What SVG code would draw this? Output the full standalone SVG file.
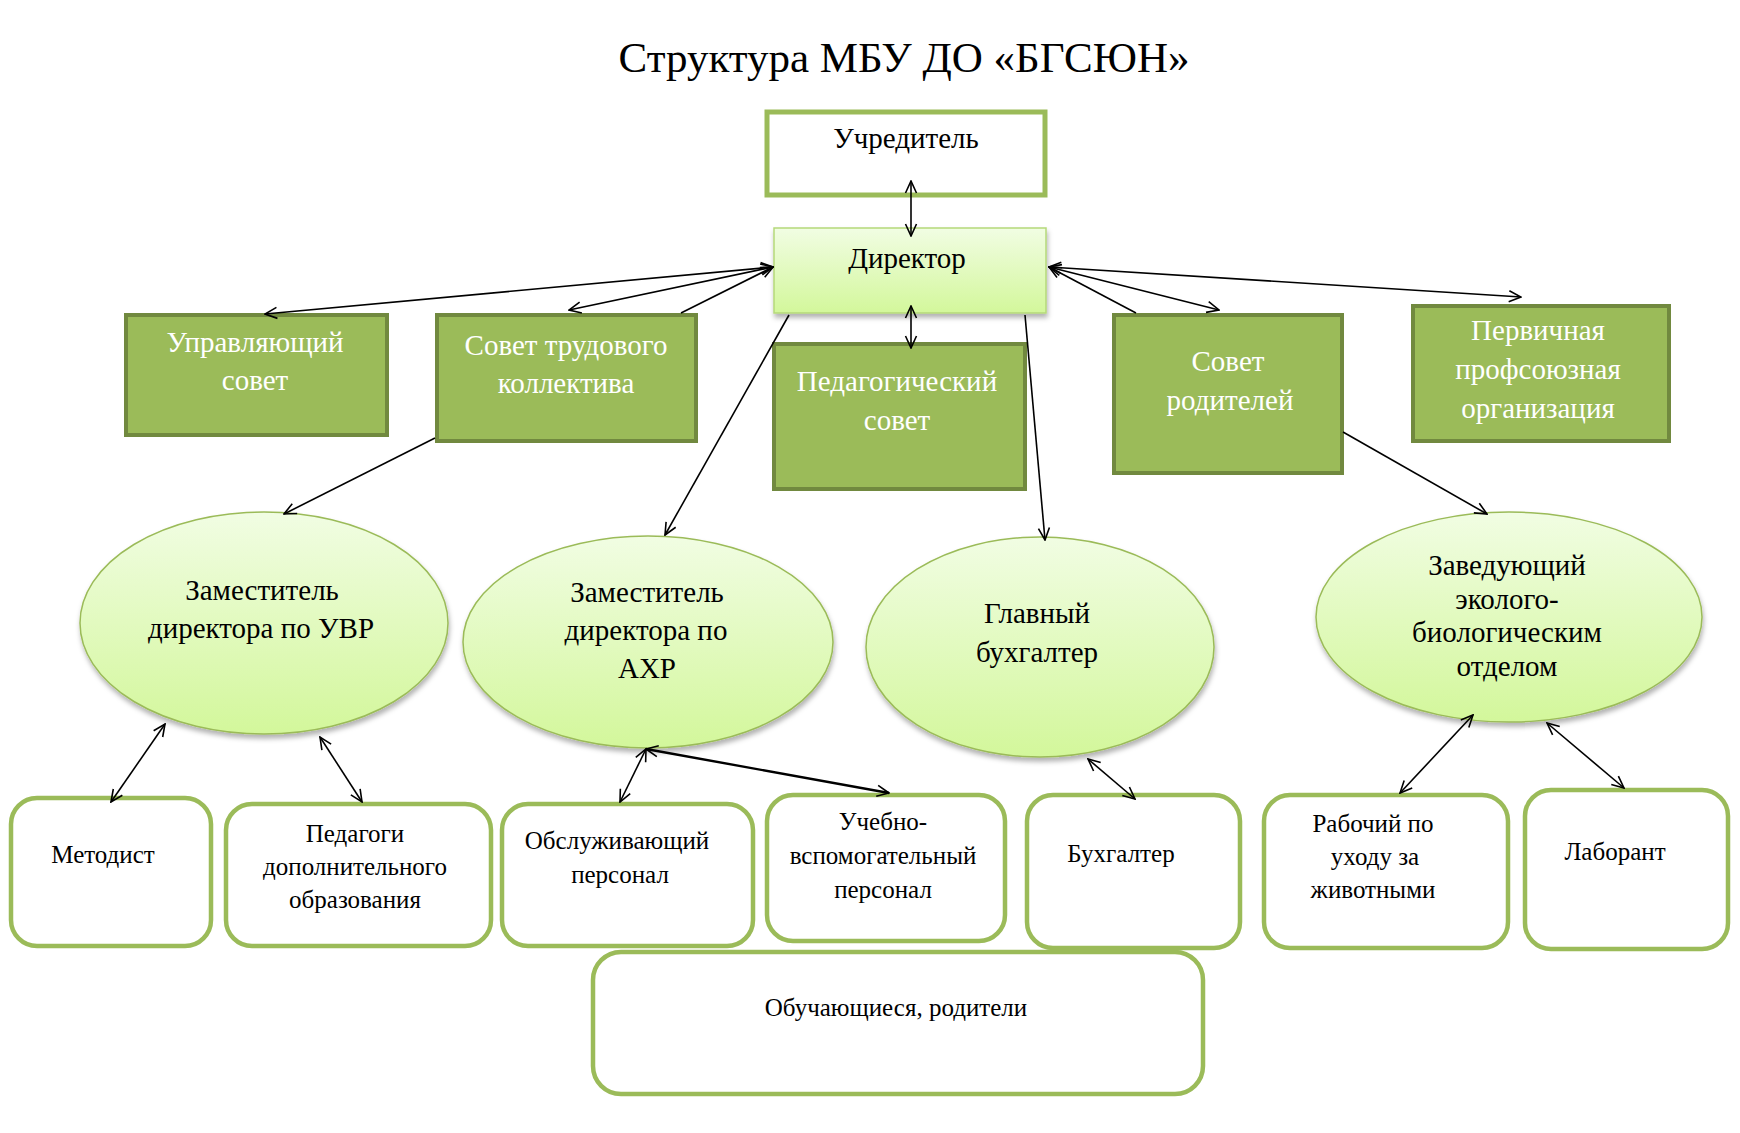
<svg xmlns="http://www.w3.org/2000/svg" width="1740" height="1133" viewBox="0 0 1740 1133">
<defs>
<style>
text{font-family:"Liberation Serif","Times New Roman",serif;text-anchor:middle;fill:#000}
.t{font-size:43px}
.m{font-size:29px}
.w{font-size:29px;fill:#fff}
.s{font-size:25px}
.gbox{fill:#9BBB59;stroke:#71893F;stroke-width:4}
.rbox{fill:#fff;stroke:#9BBB59;stroke-width:4.5}
.ell{fill:url(#eg);stroke:#9BBB59;stroke-width:1.5}
.c{stroke:#000;stroke-width:1.6;fill:none}
.ab{marker-end:url(#ah)}
.dd{marker-start:url(#ah);marker-end:url(#ah)}
</style>
<linearGradient id="eg" x1="0" y1="0" x2="0" y2="1">
<stop offset="0" stop-color="#F1FDE3"/>
<stop offset="1" stop-color="#D3F79B"/>
</linearGradient>
<linearGradient id="dg" x1="0" y1="0" x2="0" y2="1">
<stop offset="0" stop-color="#F1FDE3"/>
<stop offset="1" stop-color="#D3F79B"/>
</linearGradient>
<filter id="sh" x="-10%" y="-10%" width="120%" height="130%">
<feDropShadow dx="1" dy="4" stdDeviation="2.5" flood-color="#000" flood-opacity="0.3"/>
</filter>
<marker id="ah" viewBox="0 0 14 14" refX="13" refY="7" markerWidth="14" markerHeight="14" markerUnits="userSpaceOnUse" orient="auto-start-reverse">
<path d="M1,1.5 L13,7 L1,12.5" fill="none" stroke="#000" stroke-width="1.6"/>
</marker>
</defs>
<rect width="1740" height="1133" fill="#fff"/>
<text class="t" x="904" y="72">Структура МБУ ДО «БГСЮН»</text>

<g id="nodes">
<g id="uchreditel"><rect x="767" y="112" width="278" height="83" fill="#fff" stroke="#9BBB59" stroke-width="5"/><text class="m" x="906" y="148">Учредитель</text></g>
<g id="director"><rect x="774" y="228" width="272" height="85" fill="url(#dg)" stroke="#B5D97A" stroke-width="1.5" filter="url(#sh)"/><text class="m" x="907" y="268">Директор</text></g>
<g id="upr"><rect class="gbox" x="126" y="315" width="261" height="120"/><text class="w" x="255" y="352">Управляющий</text><text class="w" x="255" y="390">совет</text></g>
<g id="stk"><rect class="gbox" x="437" y="315" width="259" height="126"/><text class="w" x="566" y="355">Совет трудового</text><text class="w" x="566" y="393">коллектива</text></g>
<g id="ped"><rect class="gbox" x="774" y="344" width="251" height="145"/><text class="w" x="897" y="391">Педагогический</text><text class="w" x="897" y="430">совет</text></g>
<g id="srod"><rect class="gbox" x="1114" y="315" width="228" height="158"/><text class="w" x="1228" y="371">Совет</text><text class="w" x="1230" y="410">родителей</text></g>
<g id="ppo"><rect class="gbox" x="1413" y="306" width="256" height="135"/><text class="w" x="1538" y="340">Первичная</text><text class="w" x="1538" y="379">профсоюзная</text><text class="w" x="1538" y="418">организация</text></g>

<g id="zuvr"><ellipse class="ell" cx="264" cy="623" rx="184" ry="111" filter="url(#sh)"/><text class="m" x="262" y="600">Заместитель</text><text class="m" x="261" y="638">директора по УВР</text></g>
<g id="zahr"><ellipse class="ell" cx="648" cy="642" rx="185" ry="106" filter="url(#sh)"/><text class="m" x="647" y="602">Заместитель</text><text class="m" x="646" y="640">директора по</text><text class="m" x="647" y="678">АХР</text></g>
<g id="gb"><ellipse class="ell" cx="1040" cy="647" rx="174" ry="110" filter="url(#sh)"/><text class="m" x="1037" y="623">Главный</text><text class="m" x="1037" y="662">бухгалтер</text></g>
<g id="zeb"><ellipse class="ell" cx="1509" cy="617" rx="193" ry="105" filter="url(#sh)"/><text class="m" x="1507" y="575">Заведующий</text><text class="m" x="1507" y="609">эколого-</text><text class="m" x="1507" y="642">биологическим</text><text class="m" x="1507" y="676">отделом</text></g>

<g id="metodist"><rect class="rbox" x="11" y="798" width="200" height="148" rx="26"/><text class="s" x="103" y="863">Методист</text></g>
<g id="pdo"><rect class="rbox" x="226" y="804" width="265" height="142" rx="26"/><text class="s" x="355" y="842">Педагоги</text><text class="s" x="355" y="875">дополнительного</text><text class="s" x="355" y="908">образования</text></g>
<g id="obsl"><rect class="rbox" x="502" y="804" width="251" height="142" rx="26"/><text class="s" x="617" y="849">Обслуживающий</text><text class="s" x="620" y="883">персонал</text></g>
<g id="uvp"><rect class="rbox" x="767" y="795" width="238" height="146" rx="26"/><text class="s" x="883" y="830">Учебно-</text><text class="s" x="883" y="864">вспомогательный</text><text class="s" x="883" y="898">персонал</text></g>
<g id="buh"><rect class="rbox" x="1027" y="795" width="213" height="153" rx="26"/><text class="s" x="1121" y="862">Бухгалтер</text></g>
<g id="rab"><rect class="rbox" x="1264" y="795" width="244" height="153" rx="26"/><text class="s" x="1373" y="832">Рабочий по</text><text class="s" x="1375" y="865">уходу за</text><text class="s" x="1373" y="898">животными</text></g>
<g id="lab"><rect class="rbox" x="1525" y="790" width="203" height="159" rx="26"/><text class="s" x="1615" y="860">Лаборант</text></g>
<g id="obuch"><rect class="rbox" x="593" y="952" width="610" height="142" rx="28"/><text class="s" x="896" y="1016">Обучающиеся, родители</text></g>
</g>

<g id="connectors">
<line class="c dd" x1="911" y1="181" x2="911" y2="236"/>
<line class="c dd" x1="911" y1="306" x2="911" y2="348"/>
<line class="c dd" x1="773" y1="267" x2="265" y2="314"/>
<line class="c dd" x1="773" y1="267" x2="569" y2="310"/>
<line class="c ab" x1="681" y1="313" x2="773" y2="267"/>
<line class="c dd" x1="1049" y1="267" x2="1219" y2="310"/>
<line class="c ab" x1="1136" y1="313" x2="1049" y2="267"/>
<line class="c dd" x1="1049" y1="267" x2="1521" y2="297"/>
<line class="c ab" x1="435" y1="438" x2="284" y2="514"/>
<line class="c ab" x1="789" y1="315" x2="665" y2="535"/>
<line class="c ab" x1="1025" y1="315" x2="1045" y2="540"/>
<line class="c ab" x1="1343" y1="432" x2="1487" y2="514"/>
<line class="c dd" x1="165" y1="724" x2="111" y2="802"/>
<line class="c dd" x1="320" y1="737" x2="362" y2="802"/>
<line class="c dd" x1="646" y1="749" x2="620" y2="802"/>
<line class="c dd" x1="646" y1="749" x2="889" y2="793" style="stroke-width:2.4"/>
<line class="c dd" x1="1088" y1="759" x2="1135" y2="799"/>
<line class="c dd" x1="1473" y1="715" x2="1400" y2="793"/>
<line class="c dd" x1="1547" y1="723" x2="1624" y2="788"/>
</g>
</svg>
